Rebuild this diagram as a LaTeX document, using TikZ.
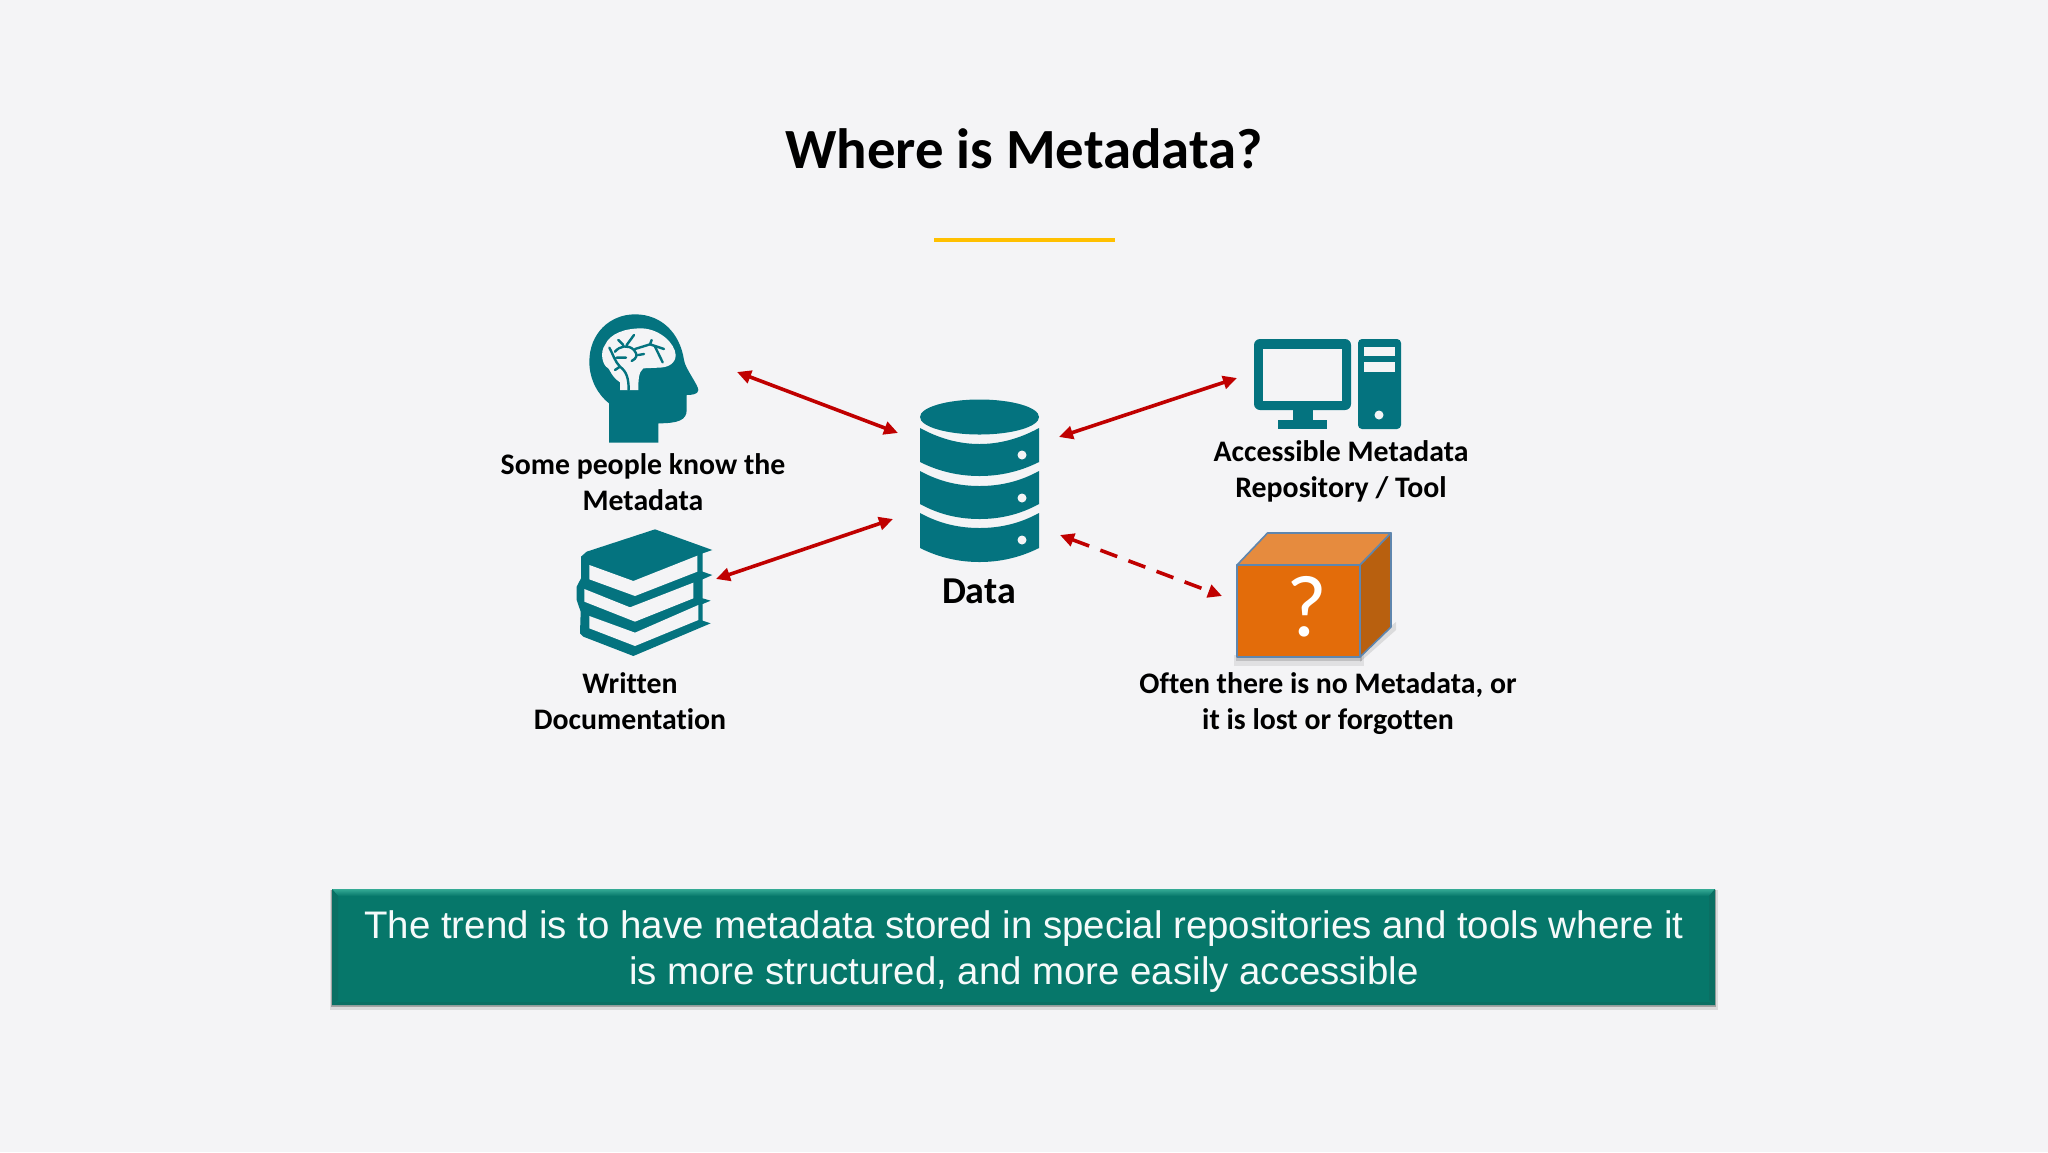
\documentclass[tikz,border=0pt]{standalone}
\usepackage{fontspec}
\setmainfont{Carlito}[Ligatures=CommonOff]
\newfontfamily\arialish{Liberation Sans}
\usetikzlibrary{arrows.meta}
\definecolor{bgc}{HTML}{F4F4F6}
\definecolor{teal1}{HTML}{04737F}
\definecolor{arrowred}{HTML}{C00000}
\definecolor{gold}{HTML}{FFC000}
\definecolor{bandc}{HTML}{06776A}
\definecolor{bandtop}{HTML}{35AA95}
\definecolor{bandside}{HTML}{0A6F63}
\definecolor{boxfront}{HTML}{E36C0A}
\definecolor{boxtop}{HTML}{E68B3E}
\definecolor{boxside}{HTML}{B8600F}
\definecolor{boxline}{HTML}{5F86AE}
\tikzset{
  x=0.5pt,y=-0.5pt,
  label text/.style={font=\fontsize{14.9}{18}\selectfont\bfseries,align=center,text=black,inner sep=0pt},
  link/.style={draw=arrowred,line width=1.8pt,{Triangle[length=7pt,width=6.5pt]}-{Triangle[length=7pt,width=6.5pt]}},
  dashed link/.style={link,dash pattern=on 9pt off 6pt},
  icon/.style={fill=teal1,draw=none},
  hole/.style={fill=bgc,draw=none},
  boxedge/.style={draw=boxline,line width=0.8pt,line join=round},
}
\begin{document}
\begin{tikzpicture}
\useasboundingbox (0,0) rectangle (2048,1152);
\fill[bgc] (0,0) rectangle (2048,1152);

% title
\node[font=\fontsize{28.4}{32}\selectfont\bfseries,inner sep=0pt] (title) at (1024,149) {Where is Metadata?};
\draw[gold,line width=2pt] (934,239.5) -- (1115,239.5);

% head icon
\begin{scope}[shift={(570,305)},scale=1/3]
\fill[icon] (117,413) -- (117,295) .. controls (85,270) and (58,225) .. (58,170)
  .. controls (58,85) and (120,28) .. (195,28)
  .. controls (275,28) and (330,85) .. (342,165)
  .. controls (345,190) and (385,240) .. (385,255)
  .. controls (385,268) and (365,270) .. (350,270)
  -- (350,315) .. controls (350,345) and (325,355) .. (265,355)
  -- (265,413) -- cycle;
\fill[hole] (150,255) -- (150,232) .. controls (125,215) and (120,195) .. (115,190)
  .. controls (95,180) and (90,140) .. (105,120)
  .. controls (120,85) and (165,70) .. (215,70)
  .. controls (270,72) and (315,115) .. (317,150)
  .. controls (317,175) and (295,188) .. (265,188)
  -- (220,190) .. controls (205,200) and (205,230) .. (205,255) -- cycle;
\draw[teal1,line width=1.2pt,line cap=round,line join=round]
  (176,255) .. controls (176,220) and (170,200) .. (150,185)
  .. controls (135,170) and (130,150) .. (118,128)
  (150,185) -- (135,195)
  (140,158) -- (168,158)
  (135,140) .. controls (150,122) and (175,118) .. (192,135)
  .. controls (205,150) and (200,160) .. (185,168)
  (160,120) -- (145,105) (170,120) -- (192,90)
  (195,132) -- (240,118) -- (282,132)
  (240,118) -- (245,105) (255,125) -- (278,172)
  (205,150) -- (222,147);
\end{scope}

% books icon
\begin{scope}[shift={(480,290)},scale=1/3]
\fill[icon] (525,718) -- (697,780) -- (668,790) -- (668,845) -- (697,855) -- (668,868)
  -- (668,925) -- (692,932) -- (668,942) -- (668,992) -- (692,1000) -- (460,1098)
  -- (310,1040) -- (300,1030) -- (302,965) -- (290,930) -- (290,890) -- (303,865)
  -- (303,800) -- (320,785) -- cycle;
\fill[hole] (328,825) -- (460,873) -- (652,797) -- (652,845) -- (465,918) -- (328,868) -- cycle;
\fill[hole] (313,897) -- (450,952) -- (640,878) -- (640,925) -- (465,995) -- (313,935) -- cycle;
\fill[hole] (328,978) -- (465,1028) -- (655,945) -- (655,990) -- (465,1068) -- (328,1015) -- cycle;
\end{scope}

% database icon
\fill[icon] (979.5,417) ellipse [x radius=59.5,y radius=17.5];
\fill[icon] (920,428) .. controls (940,439) and (960,444) .. (979.5,444) .. controls (999,444) and (1019,439) .. (1039,428)
  -- (1039,462) .. controls (1019,472) and (999,476) .. (979.5,476) .. controls (960,476) and (940,472) .. (920,462) -- cycle;
\fill[icon] (920,471) .. controls (940,482) and (960,486) .. (979.5,486) .. controls (999,486) and (1019,482) .. (1039,471)
  -- (1039,504) .. controls (1019,515) and (999,519) .. (979.5,519) .. controls (960,519) and (940,515) .. (920,504) -- cycle;
\fill[icon] (920,513) .. controls (940,524) and (960,528) .. (979.5,528) .. controls (999,528) and (1019,524) .. (1039,513)
  -- (1039,548) .. controls (1019,558) and (999,562) .. (979.5,562) .. controls (960,562) and (940,558) .. (920,548) -- cycle;
\foreach \yy in {455,498,540} \fill[bgc] (1022,\yy) circle [radius=4.5];
\node[font=\fontsize{19}{22}\selectfont\bfseries,inner sep=0pt] (data) at (979,591) {Data};

% computer icon
\fill[icon,rounded corners=3pt] (1254,339) rectangle (1351,410);
\fill[hole] (1263,349) rectangle (1342,401);
\fill[icon] (1293,408) rectangle (1313,421);
\fill[icon] (1277.5,420) rectangle (1327,429);
\fill[icon,rounded corners=2pt] (1358,339) rectangle (1401,429);
\fill[hole] (1364,347) rectangle (1395,356);
\fill[hole] (1364,362) rectangle (1395,372);
\fill[bgc] (1379,415) circle [radius=4.5];

% mystery box
\fill[black,opacity=.08] (1234,655) rectangle (1364,666);
\fill[black,opacity=.14] (1236,655) rectangle (1362,661);
\fill[black,opacity=.10] (1360,662) -- (1396,630) -- (1396,622) -- (1360,650) -- cycle;
\filldraw[fill=boxtop,boxedge] (1237,565) -- (1267.5,533) -- (1391,533) -- (1360,565) -- cycle;
\filldraw[fill=boxside,boxedge] (1360,565) -- (1391,533) -- (1391,627) -- (1360,657) -- cycle;
\filldraw[fill=boxfront,boxedge] (1237,565) rectangle (1360,657);
\node[font=\fontsize{44}{50}\selectfont,text=white,inner sep=0pt] (question) at (1306.5,607) {?};

% labels
\node[label text] (head label) at (643,482) {Some people know the\\Metadata};
\node[label text] (book label) at (630,701) {Written\\Documentation};
\node[label text] (tool label) at (1341,471) {Accessible Metadata\\Repository / Tool};
\node[label text] (box label) at (1328,703.5) {Often there is no Metadata, or\\it is lost or forgotten};

% connectors
\coordinate (head end) at (737,372);
\coordinate (data nw) at (898,433);
\coordinate (book end) at (716,579);
\coordinate (data sw) at (893,519);
\coordinate (data ne) at (1059,437);
\coordinate (tool end) at (1237,378);
\coordinate (data se) at (1060,535);
\coordinate (box end) at (1222,596);
\draw[link] (head end) -- (data nw);
\draw[link] (book end) -- (data sw);
\draw[link] (data ne) -- (tool end);
\draw[dashed link] (data se) -- (box end);

% banner
\fill[black,opacity=.10] (330,890) rectangle (1718,1010);
\fill[black,opacity=.25] (331,890) rectangle (1716,1007);
\fill[bandc] (332,889) rectangle (1715,1005);
\shade[top color=bandtop,bottom color=bandc] (332,889) -- (1715,889) -- (1709,896) -- (338,896) -- cycle;
\fill[bandside] (332,889) -- (338,896) -- (338,1000) -- (332,1005) -- cycle;
\fill[bandside] (1715,889) -- (1709,896) -- (1709,1000) -- (1715,1005) -- cycle;
\fill[bandside] (332,1005) -- (338,1002) -- (1709,1002) -- (1715,1005) -- cycle;
\node[font=\arialish\fontsize{19.2}{23}\selectfont,text=white!96!teal,align=center,inner sep=0pt] (banner) at (1024,952)
  {The trend is to have metadata stored in special repositories and tools where it\\is more structured, and more easily accessible};
\end{tikzpicture}
\end{document}
